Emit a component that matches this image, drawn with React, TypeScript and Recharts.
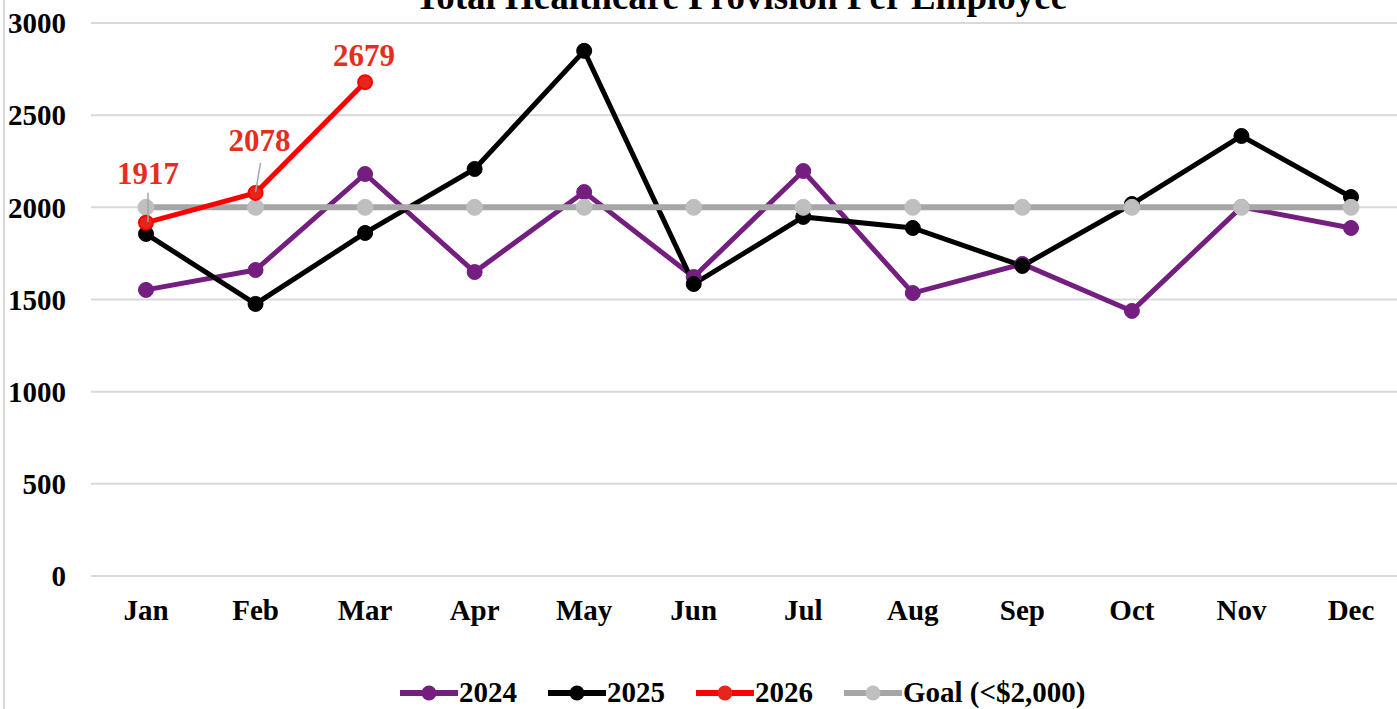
import React from "react";
import { LineChart, Line, XAxis, YAxis, CartesianGrid, Legend } from "recharts";

const months = ["Jan", "Feb", "Mar", "Apr", "May", "Jun", "Jul", "Aug", "Sep", "Oct", "Nov", "Dec"];
const values2024 = [1552, 1660, 2181, 1649, 2083, 1622, 2197, 1535, 1693, 1438, 2002, 1888];
const values2025 = [1856, 1476, 1861, 2208, 2849, 1584, 1948, 1888, 1682, 2018, 2387, 2056];
const values2026 = [1917, 2078, 2679];
const goalValues = [2000, 2000, 2000, 2000, 2000, 2000, 2000, 2000, 2000, 2000, 2000, 2000];
const yTicks = [0, 500, 1000, 1500, 2000, 2500, 3000];

const title = "Total Healthcare Provision Per Employee";
const FONT = "'Liberation Serif', 'Times New Roman', serif";

const C2024 = "#741f80";
const C2025 = "#000000";
const C2026 = "#ff0000";
const CGOAL = "#a6a6a6";
const CGOALDOT = "#bfbfbf";
const CLABEL = "#e62e1e";

const data = months.map((m, i) => ({
  month: m,
  y2024: values2024[i],
  y2025: values2025[i],
  y2026: i < values2026.length ? values2026[i] : null,
  goal: goalValues[i],
}));

// label placement for the 2026 data labels (relative to point)
const labelPlacement = [
  { dx: 2, dy: -39, leader: { x1: 2, y1: -30, x2: 2, y2: -1 } },
  { dx: 4, dy: -42, leader: { x1: 5, y1: -30, x2: 0, y2: -1 } },
  { dx: -1, dy: -16, leader: null },
];

const RedLabel = (props: any) => {
  const { x, y, value, index } = props;
  if (value == null) return null;
  const p = labelPlacement[index] || { dx: 0, dy: -16, leader: null };
  return (
    <g>
      {p.leader && (
        <line
          x1={x + p.leader.x1}
          y1={y + p.leader.y1}
          x2={x + p.leader.x2}
          y2={y + p.leader.y2}
          stroke="#a6a6a6"
          strokeWidth={1.5}
        />
      )}
      <text
        x={x + p.dx}
        y={y + p.dy}
        textAnchor="middle"
        fontFamily={FONT}
        fontWeight="bold"
        fontSize={31}
        fill={CLABEL}
      >
        {value}
      </text>
    </g>
  );
};

const legendItems = [
  { name: "2024", color: C2024, dot: C2024 },
  { name: "2025", color: C2025, dot: C2025 },
  { name: "2026", color: C2026, dot: "#e6261a" },
  { name: "Goal (<$2,000)", color: CGOAL, dot: CGOALDOT },
];

const LegendContent = () => (
  <div style={{ display: "flex", alignItems: "center", fontFamily: FONT, fontWeight: "bold", fontSize: 29, color: "#000" }}>
    {legendItems.map((it) => (
      <div key={it.name} style={{ display: "flex", alignItems: "center", marginRight: 31 }}>
        <svg width={58} height={18} style={{ marginRight: 1 }}>
          <line x1={0} y1={9} x2={58} y2={9} stroke={it.color} strokeWidth={6} />
          <circle cx={29} cy={9} r={7.5} fill={it.dot} />
        </svg>
        <span style={{ whiteSpace: "nowrap" }}>{it.name}</span>
      </div>
    ))}
  </div>
);

const tickStyle = { fontFamily: FONT, fontWeight: "bold" as const, fontSize: 29, fill: "#000" };

export default function App() {
  return (
    <div style={{ position: "fixed", left: 0, top: 0, width: 1397, height: 709, overflow: "hidden", background: "#fff" }}>
      <div style={{ position: "absolute", left: 3, top: 0, width: 1.5, height: 709, background: "#d9d9d9" }} />
      <div style={{ position: "absolute", left: 0, top: 0 }}>
        <LineChart width={1420} height={709} data={data} margin={{ top: 23, right: 14, left: 0, bottom: 0 }}>
          <CartesianGrid vertical={false} stroke="#d9d9d9" strokeWidth={2} />
          <XAxis
            dataKey="month"
            height={133}
            axisLine={false}
            tickLine={false}
            tickSize={0}
            tickMargin={23}
            padding={{ left: 55, right: 55 }}
            tick={tickStyle}
            interval={0}
          />
          <YAxis
            width={91}
            domain={[0, 3000]}
            ticks={yTicks}
            axisLine={false}
            tickLine={false}
            tickSize={0}
            tickMargin={25}
            tick={tickStyle}
            interval={0}
          />
          <Legend
            layout="horizontal"
            verticalAlign="middle"
            align="center"
            content={<LegendContent />}
            wrapperStyle={{ top: 676, left: 400, width: 800, height: 34 }}
          />
          <Line
            dataKey="y2024"
            name="2024"
            stroke={C2024}
            strokeWidth={5}
            dot={{ r: 7.5, fill: C2024, stroke: C2024, strokeWidth: 1 }}
            isAnimationActive={false}
          />
          <Line
            dataKey="y2025"
            name="2025"
            stroke={C2025}
            strokeWidth={5}
            dot={{ r: 7.5, fill: C2025, stroke: C2025, strokeWidth: 1 }}
            isAnimationActive={false}
          />
          <Line
            dataKey="goal"
            name="Goal (<$2,000)"
            stroke={CGOAL}
            strokeWidth={6}
            dot={{ r: 8, fill: CGOALDOT, stroke: CGOALDOT, strokeWidth: 1 }}
            isAnimationActive={false}
          />
          <Line
            dataKey="y2026"
            name="2026"
            stroke={C2026}
            strokeWidth={5}
            dot={{ r: 7, fill: "#e6261a", stroke: C2026, strokeWidth: 2 }}
            label={<RedLabel />}
            isAnimationActive={false}
          />
        </LineChart>
      </div>
      <svg style={{ position: "absolute", left: 0, top: 0 }} width={1397} height={40}>
        <text x={741} y={9} textAnchor="middle" fontFamily={FONT} fontWeight="bold" fontSize={37} fill="#000">
          {title}
        </text>
      </svg>
    </div>
  );
}
